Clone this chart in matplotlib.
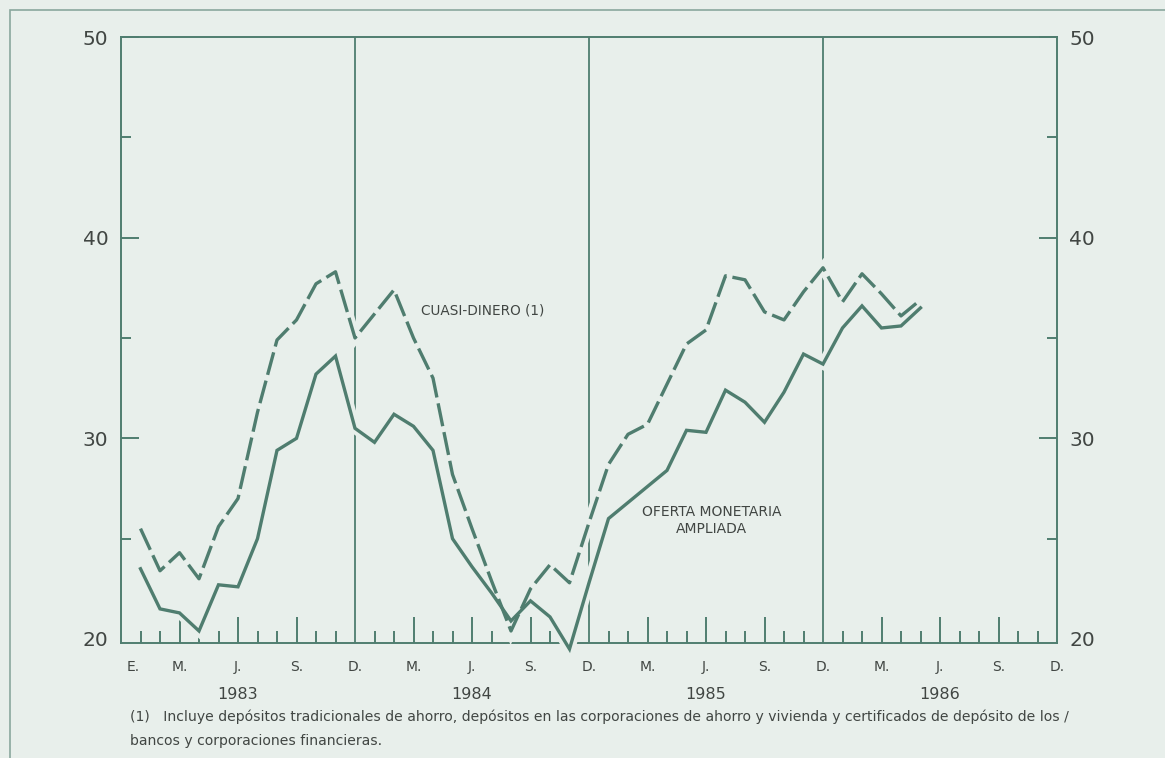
import numpy as np
import matplotlib.pyplot as plt
from matplotlib.patches import Rectangle

# meses desde enero 1983 (1 = enero 1983)
meses = np.arange(1, 42)

# tasas de crecimiento anual (%)
oferta_monetaria = [23.5, 21.5, 21.3, 20.4, 22.7, 22.6, 25.0, 29.4, 30.0, 33.2,
                    34.1, 30.5, 29.8, 31.2, 30.6, 29.4, 25.0, 23.6, 22.3, 20.9,
                    21.9, 21.1, 19.5, 22.8, 26.0, 26.8, 27.6, 28.4, 30.4, 30.3,
                    32.4, 31.8, 30.8, 32.3, 34.2, 33.7, 35.5, 36.6, 35.5, 35.6, 36.5]
cuasi_dinero = [25.5, 23.4, 24.3, 23.0, 25.6, 27.0, 31.3, 34.9, 35.9, 37.7,
                38.3, 35.0, 36.2, 37.4, 35.0, 33.0, 28.2, 25.5, 22.9, 20.4,
                22.5, 23.7, 22.8, 25.8, 28.7, 30.2, 30.7, 32.7, 34.7, 35.4,
                38.1, 37.9, 36.3, 35.9, 37.3, 38.5, 36.8, 38.2, 37.2, 36.1, 36.9]

etiquetas_mes = ["E."] + ["M.", "J.", "S.", "D."] * 4
anios = ["1983", "1984", "1985", "1986"]
nota = ("(1)   Incluye depósitos tradicionales de ahorro, depósitos en las corporaciones "
        "de ahorro y vivienda y certificados de depósito de los /\n"
        "bancos y corporaciones financieras.")

bg = "#e8efeb"
verde = "#4f7d6f"
gris = "#414643"
plt.rcParams["font.family"] = ["DejaVu Sans"]

fig = plt.figure(figsize=(11.65, 7.58), dpi=100, facecolor=bg)
ax = fig.add_axes([121 / 1165, 1 - 643 / 758, 936 / 1165, 606 / 758])
ax.set_facecolor(bg)

# marco exterior
fig.patches.append(Rectangle((10 / 1165, -0.05), 1.1, 1 - 10 / 758 + 0.05,
                             transform=fig.transFigure, fill=False,
                             edgecolor="#8aa89e", lw=1.2))

ax.set_xlim(0, 48)
ax.set_ylim(19.8, 50)

# lineas de fin de año
for d in [12, 24, 36]:
    ax.axvline(d, color=verde, lw=1.3, zorder=1)

# halo de fondo bajo las series
for serie in [oferta_monetaria, cuasi_dinero]:
    ax.plot(meses, serie, color=bg, lw=8, zorder=2.6, clip_on=False,
            solid_joinstyle="miter")

ax.plot(meses, oferta_monetaria, color=verde, lw=2.4, zorder=3, clip_on=False,
        solid_joinstyle="miter")
ax.plot(meses, cuasi_dinero, color=verde, lw=2.4, zorder=3, clip_on=False,
        dashes=(7, 1.8))

# ejes
for s in ax.spines.values():
    s.set_color(verde)
    s.set_linewidth(1.4)

ax.set_yticks([20, 30, 40, 50])
ax.set_yticks([25, 35, 45], minor=True)
ax.tick_params(axis="y", which="both", direction="in", left=True, right=True,
               labelleft=True, labelright=True, color=verde, width=1.4,
               labelsize=14.5, labelcolor=gris)
ax.tick_params(axis="y", which="major", length=13, pad=9)
ax.tick_params(axis="y", which="minor", length=7)
t20 = ax.yaxis.get_major_ticks()[0]
t20.tick1line.set_visible(False)
t20.tick2line.set_visible(False)

trimestres = [m for m in range(3, 48, 3) if m % 12 != 0]
mensuales = [m for m in range(1, 48) if m % 3 != 0]
ax.set_xticks(trimestres)
ax.set_xticks(mensuales, minor=True)
ax.tick_params(axis="x", which="both", direction="in", color=verde, width=1.4,
               labelbottom=False)
ax.tick_params(axis="x", which="major", length=19)
ax.tick_params(axis="x", which="minor", length=8.5)

tr = ax.get_xaxis_transform()
for i, lab in enumerate(etiquetas_mes):
    xpos = max(3 * i, 0.6)
    ax.text(xpos, -0.028, lab, transform=tr, ha="center", va="top",
            fontsize=10, color=gris)
for i, a in enumerate(anios):
    ax.text(12 * i + 6, -0.072, a, transform=tr, ha="center", va="top",
            fontsize=11.5, color=gris)

ax.text(15.4, 36.35, "CUASI-DINERO (1)", ha="left", va="center",
        fontsize=9.8, color=gris)
ax.text(30.3, 25.9, "OFERTA MONETARIA\nAMPLIADA", ha="center", va="center",
        fontsize=10, color=gris, linespacing=1.3)

fig.text(130 / 1165, 1 - 710 / 758, nota, ha="left", va="top", fontsize=10.1,
         color=gris, linespacing=1.85)

fig.savefig("out.png", dpi=100, facecolor=bg)
